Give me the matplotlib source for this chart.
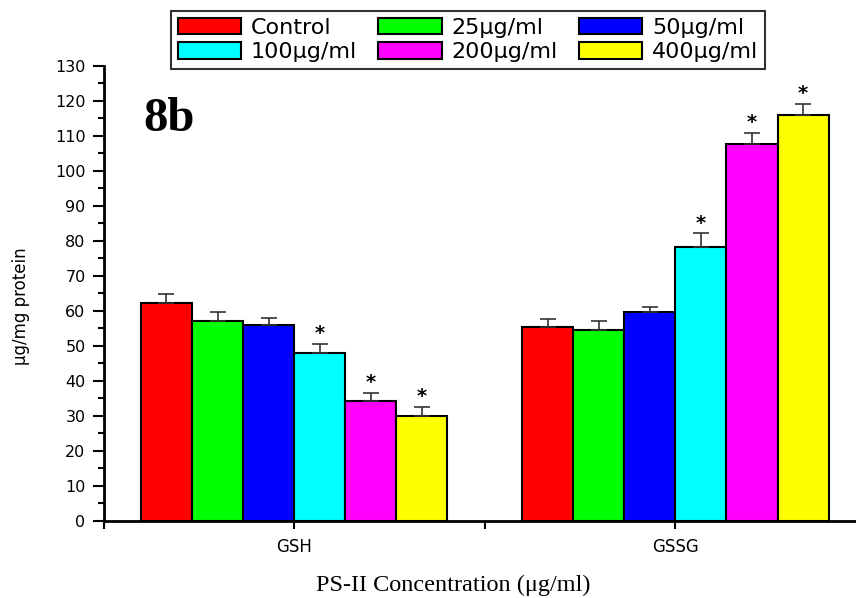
import matplotlib.pyplot as plt
from matplotlib.ticker import MultipleLocator
import numpy as np

groups = ['GSH', 'GSSG']
doses = ['Control', '25μg/ml', '50μg/ml', '100μg/ml', '200μg/ml', '400μg/ml']
colors = ['#ff0000', '#00ff00', '#0000ff', '#00ffff', '#ff00ff', '#ffff00']

# mean and SD per dose, one entry per group (GSH, GSSG)
control = [62.4, 55.4]
dose_25 = [57.2, 54.5]
dose_50 = [56.1, 59.6]
dose_100 = [48.1, 78.4]
dose_200 = [34.4, 107.7]
dose_400 = [30.0, 116.1]

err_control = [2.5, 2.2]
err_25 = [2.4, 2.6]
err_50 = [2.0, 1.6]
err_100 = [2.5, 3.8]
err_200 = [2.3, 3.2]
err_400 = [2.7, 3.0]

# significance flags (p < 0.05 vs control)
sig_100 = [True, True]
sig_200 = [True, True]
sig_400 = [True, True]

means = [control, dose_25, dose_50, dose_100, dose_200, dose_400]
errs = [err_control, err_25, err_50, err_100, err_200, err_400]
sigs = [[False, False], [False, False], [False, False], sig_100, sig_200, sig_400]

plt.rcParams['font.family'] = ['DejaVu Sans']

fig = plt.figure(figsize=(8.56, 5.98), dpi=100)
ax = fig.add_axes([0.121, 0.1288, 0.8907, 0.761])

x = np.arange(1, len(groups) + 1)
width = 0.134
handles = []
for i, (m, e, s) in enumerate(zip(means, errs, sigs)):
    pos = x + (i - 2.5) * width
    b = ax.bar(pos, m, width, color=colors[i], edgecolor='black', linewidth=1.5,
               label=doses[i], zorder=2)
    handles.append(b)
    ax.errorbar(pos, m, yerr=[np.zeros(len(m)), e], fmt='none', ecolor='#333333',
                elinewidth=1.2, capsize=6, capthick=1.2, zorder=3)
    for xp, v, ev, flag in zip(pos, m, e, s):
        if flag:
            ax.text(xp, v + ev + 0.2, '*', ha='center', va='bottom', fontsize=14,
                    fontweight='bold')

ax.set_xlim(0.5, 2.5)
ax.set_ylim(0, 130)
ax.set_xticks(x)
ax.set_xticklabels(groups, fontsize=12)
ax.xaxis.set_minor_locator(MultipleLocator(0.5))
ax.yaxis.set_major_locator(MultipleLocator(10))
ax.yaxis.set_minor_locator(MultipleLocator(5))
ax.tick_params(axis='y', which='major', length=8, width=1.5, labelsize=11.5, pad=5)
ax.tick_params(axis='y', which='minor', length=4, width=1.5)
ax.tick_params(axis='x', which='both', length=6, width=1.5, pad=6)
for side in ['top', 'right']:
    ax.spines[side].set_visible(False)
for side in ['left', 'bottom']:
    ax.spines[side].set_linewidth(2)

fig.text(21 / 856, 1 - 306 / 598, 'μg/mg protein', fontsize=12, rotation=90,
         ha='center', va='center')
fig.text(453 / 856, 1 - 585 / 598, 'PS-II Concentration (μg/ml)', fontsize=17.5,
         ha='center', va='center', family=['Liberation Serif', 'DejaVu Serif'])

fig.text(169 / 856, 1 - 119 / 598, '8b', fontsize=35, fontweight='bold', ha='center',
         va='center', family=['Liberation Serif', 'DejaVu Serif'])

order = [0, 3, 1, 4, 2, 5]
leg = fig.legend([handles[k] for k in order], [doses[k] for k in order], ncol=3,
                 loc='upper left', bbox_to_anchor=(171 / 856, 1 - 11 / 598),
                 fontsize=16, handlelength=2.85, handleheight=0.77, handletextpad=0.45,
                 columnspacing=0.95, labelspacing=0.2, borderpad=0.3, borderaxespad=0,
                 fancybox=False, framealpha=1, edgecolor='#333333')
leg.get_frame().set_linewidth(1.5)

fig.savefig('out.png', dpi=100)
